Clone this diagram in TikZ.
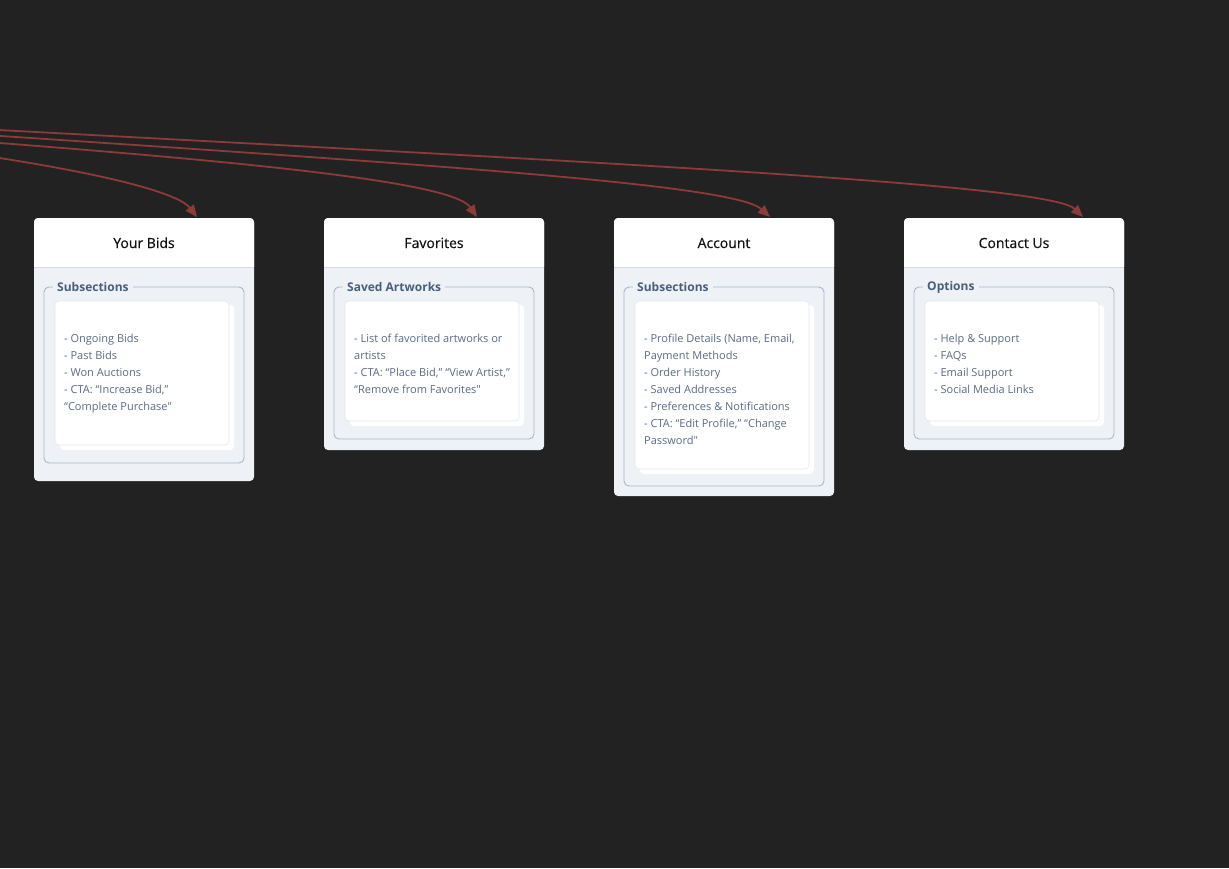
\documentclass[tikz,border=0pt]{standalone}
\usepackage{fontspec}
\setmainfont{Open Sans}[Ligatures=TeXOff]
\newfontfamily\titlefont{Open Sans}[FakeBold=0.5]
\usetikzlibrary{arrows.meta,calc}
\definecolor{pagebg}{HTML}{222222}
\definecolor{cardbg}{HTML}{EEF2F6}
\definecolor{grpline}{HTML}{A8B6C8}
\definecolor{labcol}{HTML}{4B5D78}
\definecolor{bodycol}{HTML}{5B6B82}
\definecolor{titlecol}{HTML}{111111}
\definecolor{boxline}{HTML}{E2E7ED}
\definecolor{headline}{HTML}{D3DAE3}
\definecolor{conncol}{HTML}{8C3A3A}
\tikzset{
  cardbox/.style={fill=cardbg, rounded corners=4pt, inner sep=0pt, outer sep=0pt},
  titletext/.style={text=titlecol, font=\titlefont\fontsize{14}{17}\selectfont, inner sep=0pt},
  grpbox/.style={draw=grpline, line width=0.9pt, rounded corners=5pt},
  grplabel/.style={fill=cardbg, text=labcol, font=\bfseries\fontsize{12}{14}\selectfont, inner xsep=4pt, inner ysep=1pt},
  backbox/.style={fill=white, rounded corners=4pt},
  frontbox/.style={fill=white, draw=boxline, line width=0.6pt, rounded corners=4pt},
  bodytext/.style={text=bodycol, font=\fontsize{11}{17}\selectfont, align=left, inner sep=0pt},
  conn/.style={draw=conncol, line width=1.8pt, -{Triangle[length=12pt,width=10pt]}}
}
% #1 name, #2 x0, #3 card bottom, #4 group bottom, #5 inner bottom, #6 title, #7 label, #8 text
\newcommand\mkcard[8]{%
  \node[cardbox, minimum width=220pt, minimum height={(#3-218)*1pt}, anchor=north west] (#1) at (#2,218) {};
  \fill[white] (#2,267) [rounded corners=4pt] -- (#2,218) -- ({#2+220},218) [sharp corners] -- ({#2+220},267) -- cycle;
  \draw[headline, line width=0.8pt] (#2,267) -- ({#2+220},267);
  \node[titletext, anchor=base] (#1-title) at ({#2+110},248) {#6};
  \draw[grpbox] ({#2+10},287) rectangle ({#2+210},#4);
  \node[grplabel, anchor=west] (#1-lab) at ({#2+19},287) {#7};
  \fill[backbox] ({#2+26},305) rectangle ({#2+200},{#5+5});
  \draw[frontbox] ({#2+21},301) rectangle ({#2+195},#5);
  \node[bodytext, anchor=north west] (#1-txt) at ({#2+30},334) {#8};
}
\begin{document}
\begin{tikzpicture}[x=1pt,y=-1pt]
\useasboundingbox (0,0) rectangle (1229,868);
\fill[pagebg] (0,0) rectangle (1229,868);
\clip (0,0) rectangle (1229,868);

\mkcard{bids}{34}{481}{463}{445}{Your Bids}{Subsections}{- Ongoing Bids\\- Past Bids\\- Won Auctions\\- CTA: “Increase Bid,”\\“Complete Purchase"}
\mkcard{fav}{324}{450}{439}{421}{Favorites}{Saved Artworks}{- List of favorited artworks or\\artists\\- CTA: “Place Bid,” “View Artist,”\\“Remove from Favorites"}
\mkcard{acct}{614}{496}{486}{469}{Account}{Subsections}{- Profile Details (Name, Email,\\Payment Methods\\- Order History\\- Saved Addresses\\- Preferences \& Notifications\\- CTA: “Edit Profile,” “Change\\Password"}
\mkcard{contact}{904}{450}{439}{421}{Contact Us}{Options}{- Help \& Support\\- FAQs\\- Email Support\\- Social Media Links}

\coordinate (s1) at (-20,155);
\coordinate (s2) at (-20,141.5);
\coordinate (s3) at (-20,134.6);
\coordinate (s4) at (-20,129);
\draw[conn] (s1) .. controls (120,176) and (180,195) .. ([shift={(53pt,1pt)}]bids.north);
\draw[conn] (s2) .. controls (300,166) and (455,185) .. ([shift={(43pt,1pt)}]fav.north);
\draw[conn] (s3) .. controls (450,166) and (735,185) .. ([shift={(46pt,1pt)}]acct.north);
\draw[conn] (s4) .. controls (650,165) and (1050,185) .. ([shift={(69pt,1pt)}]contact.north);
\end{tikzpicture}
\end{document}
